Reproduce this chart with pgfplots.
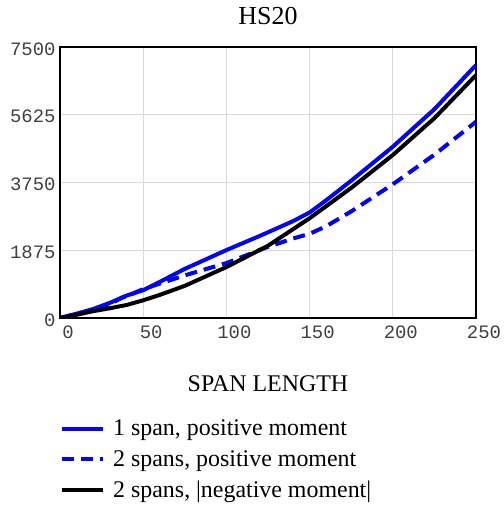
\documentclass[border=0pt]{standalone}
\usepackage{fontspec}
\setmainfont{Liberation Serif}
\setmonofont{Liberation Mono}
\usepackage{pgfplots}
\pgfplotsset{compat=1.18}
\definecolor{gridgray}{RGB}{217,217,217}
\definecolor{myblue}{RGB}{0,0,255}
\begin{document}
\begin{tikzpicture}
\useasboundingbox (-60bp,-192bp) rectangle (444bp,318bp);
\begin{axis}[
  at={(0,0)}, anchor=south west,
  scale only axis, width=416bp, height=271bp,
  xmin=0, xmax=250, ymin=0, ymax=7500,
  xtick={0,50,100,150,200,250},
  ytick={0,1875,3750,5625,7500},
  grid=major,
  major grid style={gridgray, line width=1.3bp},
  axis line style={black, line width=2bp},
  major tick length=0pt,
  /pgf/number format/assume math mode=true,
  /pgf/number format/1000 sep={},
  ticklabel style={font=\ttfamily\fontsize{19}{19}\selectfont, text=black!75},
  xticklabel style={xshift=8bp, yshift=-4bp},
  yticklabel style={xshift=-1bp, yshift=-2bp},
  title={HS20},
  title style={font=\fontsize{26}{26}\selectfont, at={(axis description cs:0.5,1)}, anchor=base, yshift=17bp, xshift=0bp},
  xlabel={SPAN LENGTH},
  xlabel style={font=\fontsize{24}{24}\selectfont, at={(axis description cs:0.5,-0.2694)}, anchor=base},
  legend style={draw=none, fill=none, at={(axis description cs:0,-0.368)}, anchor=north west,
    font=\fontsize{24}{24}\selectfont, row sep=9bp, inner sep=0pt, cells={anchor=west}},
  legend cell align=left,
  legend image code/.code={\draw[#1] (0bp,0bp) -- (41bp,0bp); \path (47bp,0bp);},
]
\addplot[myblue, line width=4bp] coordinates {
(0,0) (10,120) (20,250) (30,420) (40,620) (50,770) (60,1000) (75,1360) (100,1880) (120,2270) (140,2680) (150,2920) (160,3260) (175,3800) (200,4740) (225,5780) (250,7000)};
\addlegendentry{1 span, positive moment}
\addplot[myblue, line width=4bp, dash pattern=on 12bp off 7bp] coordinates {
(0,0) (10,110) (20,230) (30,380) (37,560) (40,600) (50,800) (75,1180) (100,1520) (125,1970) (140,2200) (150,2330) (160,2540) (175,2950) (200,3700) (225,4520) (250,5430)};
\addlegendentry{2 spans, positive moment}
\addplot[black, line width=4bp] coordinates {
(0,0) (10,90) (20,190) (30,270) (40,360) (50,490) (60,640) (75,890) (100,1410) (125,2000) (150,2760) (175,3600) (200,4510) (225,5530) (250,6720)};
\addlegendentry{2 spans, |negative moment|}
\end{axis}
\end{tikzpicture}
\end{document}
